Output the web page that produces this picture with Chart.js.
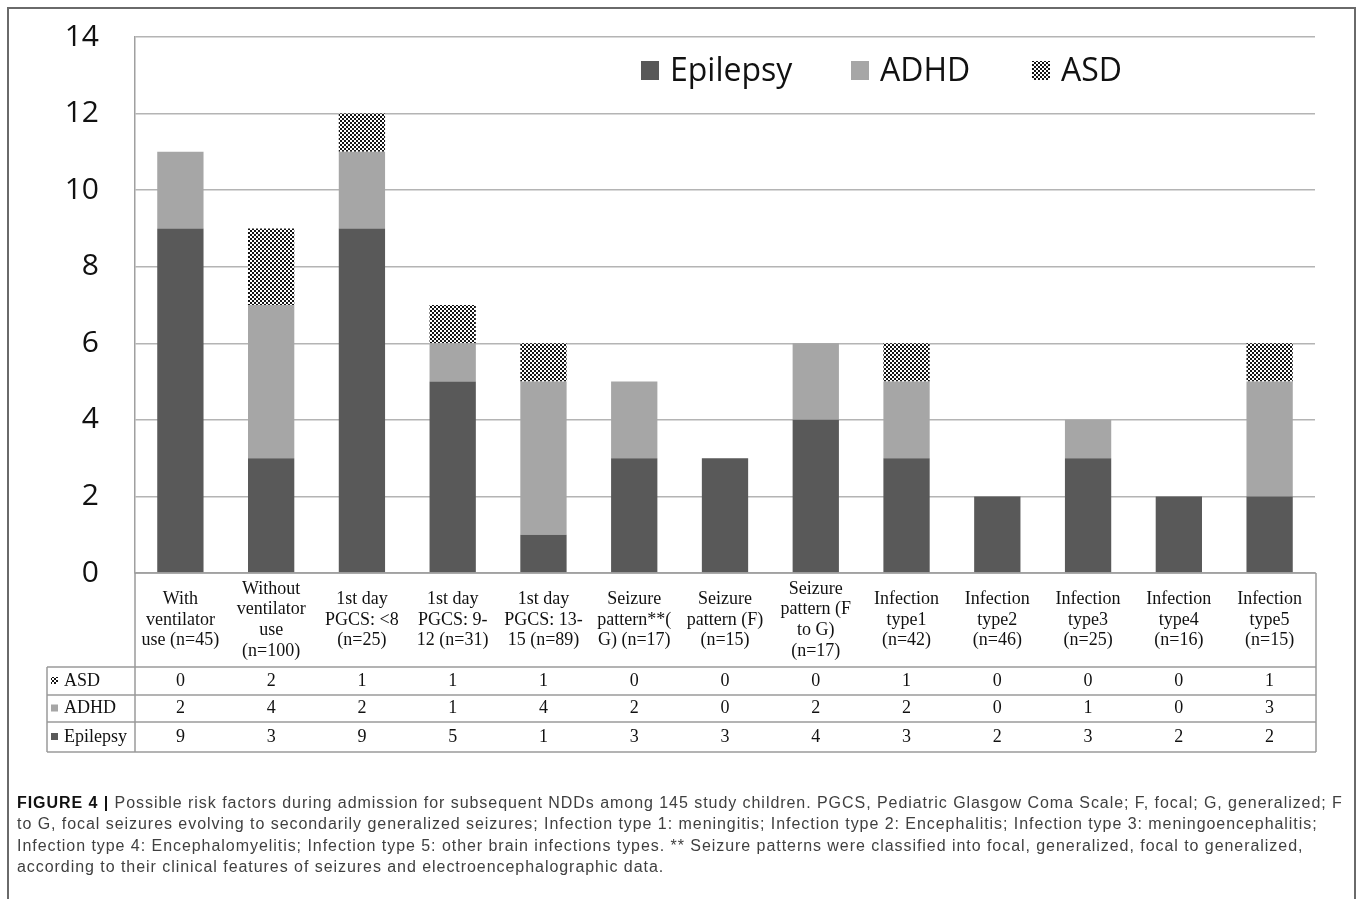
<!DOCTYPE html>
<html>
<head>
<meta charset="utf-8">
<script src="https://cdn.jsdelivr.net/npm/chart.js@4.4.1/dist/chart.umd.min.js"></script>
<style>
  body { margin: 0; background: #fff; }
  #wrap { position: relative; width: 1358px; height: 899px; overflow: hidden; }
  #frame { position: absolute; left: 7px; top: 7px; width: 1345px; height: 900px; border: 2px solid #6a6a6a; }
  #c { position: absolute; left: 0; top: 0; }
  #caption { position: absolute; left: 17px; top: 792px; font-family: "Liberation Sans", Arial, sans-serif;
             font-size: 16px; letter-spacing: 0.95px; line-height: 21.3px; color: #404040; white-space: nowrap; }
  #caption b { color: #111; }
</style>
</head>
<body>
<div id="wrap">
  <div id="frame"></div>
  <canvas id="c" width="1358" height="899"></canvas>
  <div id="caption">
    <div><b>FIGURE 4 |</b> Possible risk factors during admission for subsequent NDDs among 145 study children. PGCS, Pediatric Glasgow Coma Scale; F, focal; G, generalized; F</div>
    <div>to G, focal seizures evolving to secondarily generalized seizures; Infection type 1: meningitis; Infection type 2: Encephalitis; Infection type 3: meningoencephalitis;</div>
    <div>Infection type 4: Encephalomyelitis; Infection type 5: other brain infections types. ** Seizure patterns were classified into focal, generalized, focal to generalized,</div>
    <div>according to their clinical features of seizures and electroencephalographic data.</div>
  </div>
</div>
<script>
// categories (one array of text lines per column of the table)
var categories = [
  ["With", "ventilator", "use (n=45)"],
  ["Without", "ventilator", "use", "(n=100)"],
  ["1st day", "PGCS: <8", "(n=25)"],
  ["1st day", "PGCS: 9-", "12 (n=31)"],
  ["1st day", "PGCS: 13-", "15 (n=89)"],
  ["Seizure", "pattern**(", "G) (n=17)"],
  ["Seizure", "pattern (F)", "(n=15)"],
  ["Seizure", "pattern (F", "to G)", "(n=17)"],
  ["Infection", "type1", "(n=42)"],
  ["Infection", "type2", "(n=46)"],
  ["Infection", "type3", "(n=25)"],
  ["Infection", "type4", "(n=16)"],
  ["Infection", "type5", "(n=15)"]
];
var epilepsy = [9, 3, 9, 5, 1, 3, 3, 4, 3, 2, 3, 2, 2];
var adhd     = [2, 4, 2, 1, 4, 2, 0, 2, 2, 0, 1, 0, 3];
var asd      = [0, 2, 1, 1, 1, 0, 0, 0, 1, 0, 0, 0, 1];
var yTicks   = [0, 2, 4, 6, 8, 10, 12, 14];

function checker(ctx) {
  var p = document.createElement('canvas');
  p.width = 4; p.height = 4;
  var g = p.getContext('2d');
  g.fillStyle = '#fff'; g.fillRect(0, 0, 4, 4);
  g.fillStyle = '#151515';
  g.fillRect(0, 0, 2, 2); g.fillRect(2, 2, 2, 2);
  return ctx.createPattern(p, 'repeat');
}

var ctx = document.getElementById('c').getContext('2d');
var asdFill = checker(ctx);

var tablePlugin = {
  id: 'table',
  afterDraw: function(chart) {
    var c = chart.ctx, x = chart.scales.x, area = chart.chartArea;
    var left = 47, right = 1316, top = area.bottom;
    var rowY = [667, 695, 722, 752];
    var rows = chart.data.datasets.slice().reverse();
    c.save();

    // table lines
    c.strokeStyle = '#9a9a9a';
    c.lineWidth = 1.5;
    c.beginPath();
    c.moveTo(area.left, top); c.lineTo(right, top);
    c.moveTo(area.left, top); c.lineTo(area.left, rowY[3]);
    c.moveTo(right, top); c.lineTo(right, rowY[3]);
    c.moveTo(left, rowY[0]); c.lineTo(left, rowY[3]);
    rowY.forEach(function(y) { c.moveTo(left, y); c.lineTo(right, y); });
    c.stroke();

    // header labels
    c.fillStyle = '#111';
    c.font = '18px "Liberation Serif", "Times New Roman", serif';
    c.textAlign = 'center';
    c.textBaseline = 'middle';
    var lh = 20.7, mid = (top + rowY[0]) / 2;
    chart.data.labels.forEach(function(lines, i) {
      var cx = x.getPixelForValue(i);
      var y0 = mid - (lines.length - 1) * lh / 2;
      lines.forEach(function(t, k) { c.fillText(t, cx, y0 + k * lh); });
    });

    // data rows
    rows.forEach(function(ds, r) {
      var cy = (rowY[r] + rowY[r + 1]) / 2;
      c.fillStyle = ds.backgroundColor;
      c.fillRect(51, cy - 4, 7, 7);
      c.fillStyle = '#111';
      c.textAlign = 'left';
      c.fillText(ds.label, 64, cy);
      c.textAlign = 'center';
      ds.data.forEach(function(v, i) { c.fillText(String(v), x.getPixelForValue(i), cy); });
    });

    // legend
    c.font = '32px "Open Sans", sans-serif';
    c.textAlign = 'left';
    var legendX = [641, 851, 1032], ly = 71;
    chart.data.datasets.forEach(function(ds, i) {
      var lx = legendX[i];
      c.fillStyle = ds.backgroundColor;
      c.fillRect(lx, ly - 10, 18, 19);
      c.fillStyle = '#111';
      c.fillText(ds.label, lx + 29, ly + 1);
    });
    c.restore();
  }
};

new Chart(ctx, {
  type: 'bar',
  data: {
    labels: categories,
    datasets: [
      { label: 'Epilepsy', data: epilepsy, backgroundColor: '#595959' },
      { label: 'ADHD', data: adhd, backgroundColor: '#a6a6a6' },
      { label: 'ASD', data: asd, backgroundColor: asdFill }
    ]
  },
  options: {
    responsive: false,
    animation: false,
    layout: { padding: { left: 0, top: 37, right: 43, bottom: 0 } },
    datasets: { bar: { categoryPercentage: 1, barPercentage: 0.51, borderWidth: 0 } },
    plugins: { legend: { display: false }, tooltip: { enabled: false } },
    scales: {
      x: {
        stacked: true,
        grid: { display: false },
        border: { display: false },
        ticks: { display: false },
        afterFit: function(s) { s.height = 899 - 573; s.paddingLeft = 0; s.paddingRight = 0; }
      },
      y: {
        stacked: true,
        min: 0, max: 14,
        afterBuildTicks: function(s) { s.ticks = yTicks.map(function(v) { return { value: v }; }); },
        grid: { color: '#b4b4b4', lineWidth: 1.5, drawTicks: false },
        border: { color: '#a0a0a0', width: 1.5 },
        ticks: { padding: 36, color: '#111', font: { family: '"Open Sans", sans-serif', size: 30 } },
        afterFit: function(s) { s.width = 135; s.paddingTop = 0; s.paddingBottom = 0; }
      }
    }
  },
  plugins: [tablePlugin]
});
</script>
</body>
</html>
